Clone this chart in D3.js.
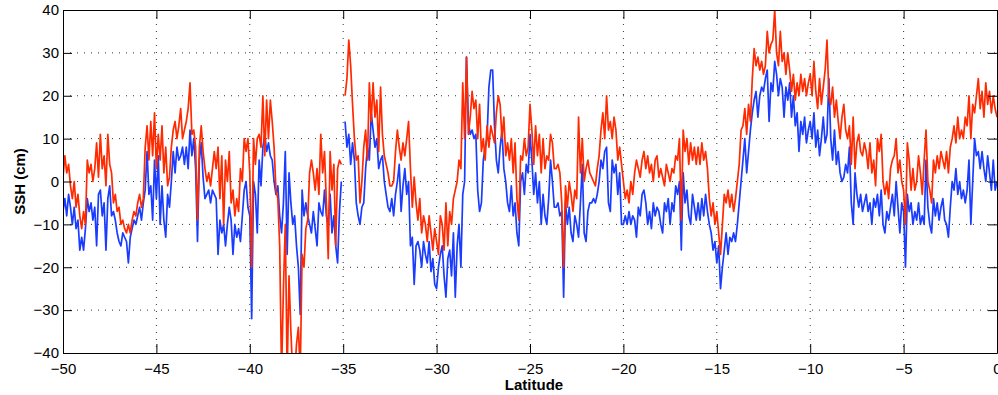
<!DOCTYPE html>
<html>
<head>
<meta charset="utf-8">
<script src="https://cdn.jsdelivr.net/npm/d3@7"></script>
<style>
  body { margin: 0; background: #fff; }
  svg { display: block; font-family: "Liberation Sans", Arial, Helvetica, sans-serif; }
</style>
</head>
<body>
<div id="chart"></div>
<script>
// latitude of first sample and spacing (degrees)
const latStart = -50;
const latStep = 0.1;

// SSH (cm), red series, one row per degree of latitude
const sshRed = [
  1, 6, 2, 4, -1, -4, 0, -6, -3, -8,
  -11, -7, -10, 5, 2, 4, 0, 3, 9, 1,
  11, 3, 6, -1, 11, 4, 2, -5, -3, -7,
  -6, -10, -9, -11, -12, -10, -12, -9, -7, -8,
  -5, -3, -6, -4, 8, 13, 5, 14, 6, 16,
  3, 11, 5, 13, 2, 8, -1, 1, 8, 12,
  14, 10, 13, 17, 10, 12, 14, 17, 23, 11,
  12, 8, -9, 8, 13, 7, 3, 0, 2, -1,
  3, 7, 3, 8, -4, 6, -10, 5, 0, 7,
  -5, -2, -8, -4, -7, 3, 0, 10, 7, 10,
  2, -20, 10, 4, 10, 11, 8, 20, 6, 19,
  10, 19, 14, 8, -2, -4, -15, -45, -25, -10,
  -45, -22, -35, -45, -45, -38, -34, -45, -17, -20,
  -11, -9, 2, 5, 2, -2, 3, -3, 11, 2,
  7, -5, -18, 7, -2, 4, -15, 3, 5, 4,
  null, 20, 24, 33, 27, 18, 10, 5, 6, -5,
  0, 8, 12, 5, 23, 14, 23, 15, 19, 7,
  22, 11, 6, 4, 2, -1, -1, 0, 7, 12,
  8, 5, 9, 6, 10, 14, 3, -6, 1, -5,
  -9, -4, -12, -8, -10, -14, -8, -12, -16, -11,
  -14, -17, -8, -10, -16, -5, -15, -7, -10, -4,
  -2, 0, 5, 3, 23, 10, 29, 11, 15, 21,
  17, 19, 10, 18, 7, 10, 5, 13, 8, 13,
  11, 9, 16, 20, 18, 10, 15, 6, 9, 5,
  10, 2, 9, -4, -9, 6, 5, 10, 6, 8,
  18, 12, 4, 13, 6, 11, 2, 10, 3, 6,
  5, 11, 9, 3, 3, 4, 2, -5, -20, -1,
  -6, 0, -3, -7, -2, -4, 15, 2, 10, 0,
  3, 5, 2, 1, 0, -1, 3, 6, 12, 16,
  10, 20, 12, 14, 10, 15, 12, 5, 8, 4,
  0, -4, -2, -5, 0, -3, 2, 5, 3, 1,
  5, 7, 3, 6, 2, 4, 0, 5, 6, 1,
  3, 1, -1, 4, 2, 0, 3, 2, 6, 5,
  10, -9, 12, 7, 10, 4, 9, 5, 8, 4,
  8, 4, 9, 5, 7, 3, -4, -8, -5, -10,
  -7, -12, -17, -10, -3, -5, -2, -6, -3, -7,
  -4, 0, 4, 12, 13, 17, 11, 18, 14, 24,
  31, 27, 29, 26, 28, 25, 27, 35, 30, 32,
  33, 40, 30, 27, 35, 28, 30, 25, 30, 26,
  21, 25, 19, 23, 20, 25, 21, 24, 20, 23,
  25, 20, 28, 21, 17, 24, 18, 22, 26, 33,
  20, 18, 22, 15, 19, 14, 10, 15, 18, 12,
  10, 13, 4, 15, 3, 9, 11, 7, 6, 9,
  7, 3, 9, 2, 5, -1, 10, 7, 11, 0,
  -3, 0, -4, 3, 5, 6, 10, 2, 5, 0,
  -2, -10, 9, 5, -2, 3, -2, 0, 6, 2,
  -3, 5, 12, 0, -2, -5, 5, 2, 6, 3,
  7, 5, 3, 7, 2, 8, 10, 13, 9, 15,
  10, 12, 10, 15, 13, 20, 10, 18, 16, 20,
  24, 17, 21, 15, 23, 18, 21, 16, 20, 17,
  15
];

// SSH (cm), blue series
const sshBlue = [
  -7, -4, -8, -3, -6, -10, -6, -11, -9, -16,
  -13, -16, -11, -4, -7, -5, -9, -6, -15, -3,
  -2, -8, -5, -16, -4, -1, -8, -7, -9, -12,
  -14, -15, -12, -13, -14, -19, -13, -11, -9, -10,
  -8, -6, -9, -5, -2, 7, -3, -1, -9, 5,
  -4, 6, -10, -1, -9, -13, -3, -6, 0, 7,
  2, 8, 5, 6, 8, 4, 8, 3, 12, 6,
  10, 3, -14, 5, 9, 1, -4, -3, -2, -5,
  -2, -3, -4, -17, -9, -12, -10, -15, -10, -6,
  -9, -17, -10, -13, -11, -14, -8, -2, 0, -6,
  -8, -32, 0, -3, -12, 5, -1, 8, 11, 7,
  9, 6, 5, 0, -3, -1, -8, -12, -5, 7,
  -17, 2, -5, -10, -8, -15, -20, -31, -2, -8,
  -5, -8, -10, -12, -7, -11, -15, -5, -7, -8,
  -2, -8, -10, -3, -12, -8, -15, -19, -7, 0,
  null, 14, 8, 11, 4, 9, 5, -5, -8, -10,
  -6, -5, 3, 8, 5, 16, 12, 8, 10, 3,
  5, 6, 0, -3, -6, -7, -4, -8, -3, 0,
  4, -7, -1, 3, -3, 0, -15, -13, -24, -15,
  -14, -16, -20, -14, -17, -19, -14, -21, -18, -24,
  -25, -20, -17, -15, -22, -27, -18, -16, -22, -12,
  -27, -15, -10, -20, -3, 0, 29, 14, 11, 12,
  10, 11, -2, -7, -5, 5, 8, 10, 22, 26,
  26, 13, 5, 2, 8, 12, 3, 0, -5, -7,
  -1, -8, -5, -12, -15, 0, 2, -3, 4, 2,
  11, 5, -3, 2, -5, 0, -10, -3, -8, -10,
  -4, 5, 0, -6, -6, -5, -8, -7, -27, -5,
  -10, -6, -12, -14, -8, -10, -13, -5, 4, -12,
  -14, -7, -5, -5, -4, -5, -3, 0, 5, 3,
  7, 8, -5, -7, 5, 2, 4, -3, 2, -10,
  -10, -8, -10, -7, -10, -8, -9, -13, -6, -8,
  -3, -2, -5, -10, -7, -11, -5, -8, -6, -7,
  -10, -12, -5, -7, -4, -10, -5, -7, -1, -3,
  0, -16, 2, -5, -2, -8, -10, -3, -6, -9,
  -5, -9, -4, -8, -3, -7, -10, -12, -16, -14,
  -19, -15, -25, -20, -16, -12, -17, -13, -14, -12,
  -14, -10, -5, 0, 5, 10, 2, 7, 12, 16,
  19, 21, 15, 20, 22, 21, 24, 26, 14, 23,
  21, 28, 25, 20, 24, 22, 15, 22, 19, 23,
  15, 20, 13, 16, 7, 14, 11, 15, 9, 12,
  14, 10, 16, 8, 12, 6, 10, 15, 9, 11,
  24, 10, 5, 12, 4, 7, 2, 0, 1, 4,
  2, 8, -5, -10, 2, -3, -6, -3, -7, -5,
  -3, -7, -5, -10, -4, -6, -3, -8, -2, -10,
  -12, -7, -9, -6, -3, -8, 0, -6, -12, -5,
  -7, -20, -3, -7, -5, -10, -7, -9, -5, -10,
  -8, -10, 5, -6, -10, -12, -4, -8, -5, -9,
  -6, -4, -9, -10, -13, -6, 0, -2, 3, -3,
  0, -4, -2, -5, -2, 5, -10, 0, 10, 6,
  7, 3, 7, 3, 0, 6, 2, -2, 5, -2,
  0
];

const xTicks = [-50, -45, -40, -35, -30, -25, -20, -15, -10, -5, 0];
const yTicks = [-40, -30, -20, -10, 0, 10, 20, 30, 40];

let margin = { top: 10, left: 63, right: 1, bottom: 42 },
    totalW = 998,
    totalH = 395,
    width = totalW - margin.left - margin.right,
    height = totalH - margin.top - margin.bottom;

let svg = d3.select("#chart")
  .append("svg")
  .attr("width", totalW)
  .attr("height", totalH);

let g = svg.append("g")
  .attr("transform", `translate(${margin.left},${margin.top})`);

let x = d3.scaleLinear().domain([-50, 0]).range([0, width]);
let y = d3.scaleLinear().domain([-40, 40]).range([height, 0]);

// dotted grid (behind the data)
g.append("g")
  .selectAll("line")
  .data(xTicks.slice(1, -1))
  .join("line")
    .attr("x1", d => x(d)).attr("x2", d => x(d))
    .attr("y1", 0).attr("y2", height)
    .attr("stroke", "#333")
    .attr("stroke-width", 1)
    .attr("stroke-dasharray", "1,6");

g.append("g")
  .selectAll("line")
  .data(yTicks.slice(1, -1))
  .join("line")
    .attr("x1", 0).attr("x2", width)
    .attr("y1", d => y(d)).attr("y2", d => y(d))
    .attr("stroke", "#333")
    .attr("stroke-width", 1)
    .attr("stroke-dasharray", "1,6");

svg.append("defs").append("clipPath")
  .attr("id", "plot-clip")
  .append("rect")
    .attr("width", width)
    .attr("height", height);

let line = d3.line()
  .defined(d => d != null)
  .x((d, i) => x(latStart + i * latStep))
  .y(d => y(d));

let plot = g.append("g").attr("clip-path", "url(#plot-clip)");

plot.append("path")
  .datum(sshBlue)
  .attr("fill", "none")
  .attr("stroke", "#1a3cff")
  .attr("stroke-width", 1.7)
  .attr("stroke-linejoin", "round")
  .attr("d", line);

plot.append("path")
  .datum(sshRed)
  .attr("fill", "none")
  .attr("stroke", "#ff2a00")
  .attr("stroke-width", 1.7)
  .attr("stroke-linejoin", "round")
  .attr("d", line);

// axes with inward ticks, MATLAB-like box
let tickLen = 9;

g.append("g")
  .attr("transform", `translate(0,${height})`)
  .call(d3.axisBottom(x).tickValues(xTicks).tickSizeInner(-tickLen).tickSizeOuter(0).tickPadding(10));

g.append("g")
  .call(d3.axisTop(x).tickValues(xTicks).tickSizeInner(-tickLen).tickSizeOuter(0).tickFormat(""));

g.append("g")
  .call(d3.axisLeft(y).tickValues(yTicks).tickSizeInner(-tickLen).tickSizeOuter(0).tickPadding(4));

g.append("g")
  .attr("transform", `translate(${width},0)`)
  .call(d3.axisRight(y).tickValues(yTicks).tickSizeInner(-tickLen).tickSizeOuter(0).tickFormat(""));

g.selectAll(".domain").attr("stroke", "#000").attr("stroke-width", 1);
g.selectAll(".tick line").attr("stroke", "#000");
g.selectAll(".tick text")
  .attr("fill", "#000")
  .style("font-size", "15px")
  .style("font-family", '"Liberation Sans", Arial, sans-serif');

// axis titles
svg.append("text")
  .attr("x", margin.left + width / 2 + 4)
  .attr("y", 390)
  .attr("text-anchor", "middle")
  .style("font-size", "15px")
  .style("font-weight", "bold")
  .text("Latitude");

svg.append("text")
  .attr("transform", `translate(25,${margin.top + height / 2}) rotate(-90)`)
  .attr("text-anchor", "middle")
  .style("font-size", "15px")
  .style("font-weight", "bold")
  .text("SSH (cm)");
</script>
</body>
</html>
